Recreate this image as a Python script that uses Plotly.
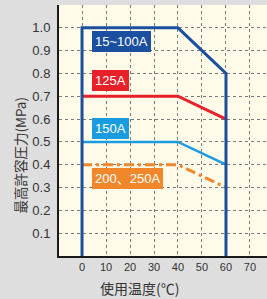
import plotly.graph_objects as go

# Data
series_names = ["15~100A", "125A", "150A", "200、250A"]
temp_15_100 = [0, 0, 40, 60, 60]
pres_15_100 = [0, 1.0, 1.0, 0.8, 0]
temp_125 = [0, 40, 60]
pres_125 = [0.7, 0.7, 0.6]
temp_150 = [0, 40, 60]
pres_150 = [0.5, 0.5, 0.4]
temp_200_250 = [0, 40, 60]
pres_200_250 = [0.4, 0.4, 0.3]

x_ticks = [0, 10, 20, 30, 40, 50, 60, 70]
y_ticks = [0.1, 0.2, 0.3, 0.4, 0.5, 0.6, 0.7, 0.8, 0.9, 1.0, 1.1]
y_ticktext = ["0.1", "0.2", "0.3", "0.4", "0.5", "0.6", "0.7", "0.8", "0.9", "1.0", ""]

label_pos_x = [4, 4, 4, 4]
label_pos_y = [0.938, 0.77, 0.559, 0.34]

colors = ["#1b4f9f", "#e8202a", "#1a9de0", "#f0872a"]

SANS = "Liberation Sans, Arial, Noto Sans CJK JP, sans-serif"
CJK = "Noto Sans CJK JP, sans-serif"

fig = go.Figure()
fig.add_trace(go.Scatter(x=temp_200_250, y=pres_200_250, mode="lines",
                         line=dict(color=colors[3], width=3, dash="10px,4px,3px,4px")))
fig.add_trace(go.Scatter(x=temp_150, y=pres_150, mode="lines",
                         line=dict(color=colors[2], width=2.5)))
fig.add_trace(go.Scatter(x=temp_125, y=pres_125, mode="lines",
                         line=dict(color=colors[1], width=3)))
fig.add_trace(go.Scatter(x=temp_15_100, y=pres_15_100, mode="lines",
                         line=dict(color=colors[0], width=3)))

for name, lx, ly, c in zip(series_names, label_pos_x, label_pos_y, colors):
    fig.add_annotation(x=lx, y=ly, xref="x", yref="y", text=name, showarrow=False,
                       xanchor="left", yanchor="middle",
                       font=dict(family=SANS, size=13, color="white"),
                       bgcolor=c, bordercolor=c, borderwidth=1, borderpad=2)

# axis titles as annotations for precise placement
fig.add_annotation(x=0, y=0.40, xref="paper", yref="paper", text="最高許容圧力(MPa)",
                   showarrow=False, textangle=-90, xanchor="center", yanchor="middle",
                   xshift=-39, font=dict(family=CJK, size=13.5, color="#333333"))
fig.add_annotation(x=0.389, y=0, xref="paper", yref="paper", text="使用温度(℃)",
                   showarrow=False, xanchor="center", yanchor="middle",
                   yshift=-32, font=dict(family=CJK, size=14, color="#333333"))

fig.update_layout(
    width=267, height=299,
    margin=dict(l=59, r=0, t=5, b=43),
    paper_bgcolor="#dedede",
    plot_bgcolor="#fffbe8",
    showlegend=False,
    xaxis=dict(range=[-9.6, 77.1], tickvals=x_ticks, ticktext=[str(v) for v in x_ticks],
               showgrid=True, gridcolor="#7a7a7a", griddash="3px,3px", gridwidth=1,
               zeroline=False, showline=True, linecolor="#1a1a1a", linewidth=2,
               ticks="", automargin=False,
               tickfont=dict(family=SANS, size=11, color="#333333"),
               fixedrange=True),
    yaxis=dict(range=[0, 1.1], tickvals=y_ticks, ticktext=y_ticktext,
               showgrid=True, gridcolor="#7a7a7a", griddash="3px,3px", gridwidth=1,
               zeroline=False, showline=True, linecolor="#1a1a1a", linewidth=2,
               ticks="", ticklabelstandoff=4, automargin=False,
               tickfont=dict(family=SANS, size=13, color="#333333"),
               fixedrange=True),
)

fig.write_html("out.html", config={"displayModeBar": False},
               post_script="document.body.style.margin='0';document.body.style.background='#dedede';")
